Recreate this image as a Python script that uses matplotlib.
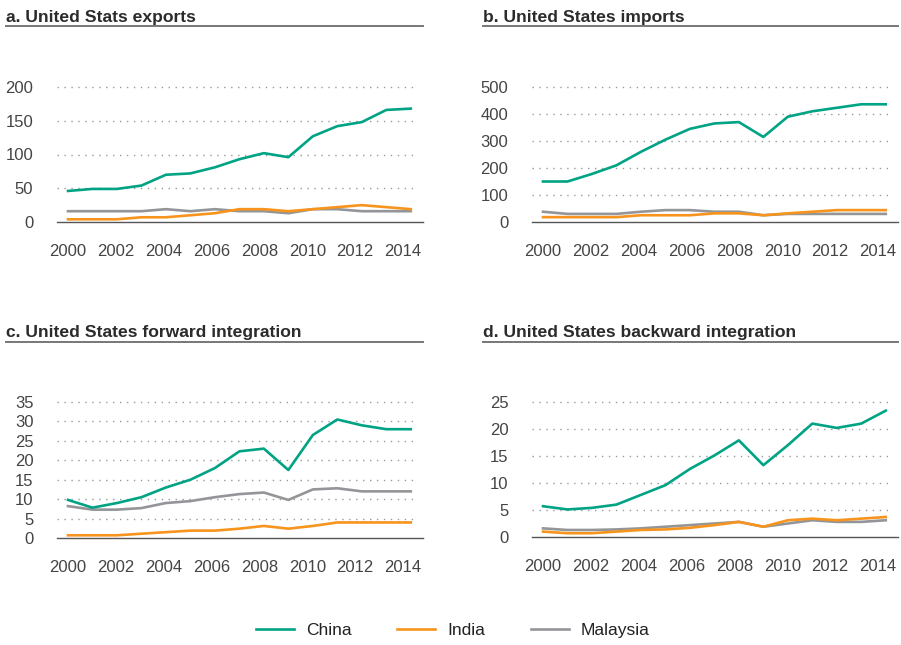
import matplotlib.pyplot as plt
import matplotlib.transforms as mtransforms

plt.rcParams['font.family'] = ['Liberation Sans Narrow', 'Liberation Sans', 'DejaVu Sans']

years = list(range(2000, 2015))

exports_china = [46, 49, 49, 54, 70, 72, 81, 93, 102, 96, 127, 142, 148, 166, 168]
exports_india = [4, 4, 4, 7, 7, 10, 13, 19, 19, 16, 19, 22, 25, 22, 19]
exports_malaysia = [16, 16, 16, 16, 19, 16, 19, 16, 16, 13, 19, 19, 16, 16, 16]

imports_china = [150, 150, 178, 210, 260, 305, 345, 365, 370, 315, 390, 410, 423, 436, 436]
imports_india = [18, 18, 18, 18, 25, 25, 25, 32, 32, 25, 32, 38, 44, 44, 44]
imports_malaysia = [38, 30, 30, 30, 38, 44, 44, 38, 38, 25, 30, 30, 30, 30, 30]

forward_china = [9.8, 7.8, 9, 10.5, 13, 15, 18, 22.3, 23, 17.5, 26.5, 30.5, 29, 28, 28]
forward_india = [0.7, 0.7, 0.7, 1.1, 1.5, 1.9, 1.9, 2.4, 3.1, 2.4, 3.1, 4, 4, 4, 4]
forward_malaysia = [8.2, 7.3, 7.3, 7.7, 9, 9.5, 10.5, 11.3, 11.7, 9.8, 12.5, 12.8, 12, 12, 12]

backward_china = [5.7, 5.1, 5.4, 6, 7.8, 9.6, 12.6, 15.1, 17.9, 13.3, 17, 21, 20.2, 21, 23.4]
backward_india = [1, 0.7, 0.7, 1.0, 1.3, 1.4, 1.7, 2.2, 2.8, 1.9, 3.1, 3.4, 3.1, 3.4, 3.7]
backward_malaysia = [1.6, 1.3, 1.3, 1.4, 1.6, 1.9, 2.2, 2.5, 2.8, 1.9, 2.5, 3.1, 2.8, 2.8, 3.1]

panels = [
    ('a. United Stats exports', exports_china, exports_india, exports_malaysia, [0, 50, 100, 150, 200]),
    ('b. United States imports', imports_china, imports_india, imports_malaysia, [0, 100, 200, 300, 400, 500]),
    ('c. United States forward integration', forward_china, forward_india, forward_malaysia, [0, 5, 10, 15, 20, 25, 30, 35]),
    ('d. United States backward integration', backward_china, backward_india, backward_malaysia, [0, 5, 10, 15, 20, 25]),
]

GREEN = '#00a383'
ORANGE = '#f7941d'
GREY = '#939598'
W, H = 901, 645

fig = plt.figure(figsize=(W / 100, H / 100), dpi=100)

# pixel boxes: (left, right, top, bottom, title_left, title_base, rule_y)
boxes = [
    (57, 423, 87, 222, 6, 22, 26),
    (532, 898, 87, 222, 483, 22, 26),
    (57, 423, 402, 538, 6, 337, 342),
    (532, 898, 402, 537, 483, 337, 342),
]

handles = None
for (title, ch, ind, mal, ticks), (l, r, t, b, tl, tb, ry) in zip(panels, boxes):
    ax = fig.add_axes([l / W, 1 - b / H, (r - l) / W, (b - t) / H])
    hc, = ax.plot(years, ch, color=GREEN, lw=1.9, label='China', zorder=3)
    hm, = ax.plot(years, mal, color=GREY, lw=1.9, label='Malaysia', zorder=2)
    hi, = ax.plot(years, ind, color=ORANGE, lw=1.9, label='India', zorder=2)
    handles = [hc, hi, hm]
    ax.set_xlim(1999.55, 2014.5)
    ax.set_ylim(0, ticks[-1])
    ax.hlines(ticks[1:], 1999.55, 2014.25, colors='#999999', linestyles=(0, (1, 4)), lw=1, clip_on=False)
    ax.set_yticks(ticks)
    ax.set_xticks(range(2000, 2015, 2))
    for s in ['top', 'right', 'left']:
        ax.spines[s].set_visible(False)
    ax.spines['bottom'].set_color('#555555')
    ax.spines['bottom'].set_linewidth(1)
    ax.tick_params(length=0, labelsize=12, colors='#444444')
    ax.tick_params(axis='y', pad=17)
    ax.tick_params(axis='x', pad=16)
    ax.patch.set_alpha(0)
    # labels sit slightly tighter than the data points in the original
    xlabels = ax.get_xticklabels()
    for k, lab in enumerate(xlabels):
        shift = -k * 1.1
        lab.set_transform(lab.get_transform() + mtransforms.ScaledTranslation(shift / 100, 0, fig.dpi_scale_trans))
    fig.text(tl / W, 1 - tb / H, title, fontsize=12.6, fontweight='bold', color='#2b2b2b',
             ha='left', va='baseline')
    fig.add_artist(plt.Line2D([tl / W, r / W], [1 - ry / H, 1 - ry / H], color='#777777', lw=1.4))

fig.legend(handles, ['China', 'India', 'Malaysia'], loc='center', bbox_to_anchor=(453 / W, 1 - 630 / H),
           ncol=3, frameon=False, fontsize=12.5, handlelength=2.2, handletextpad=0.7, columnspacing=2.6,
           labelcolor='#222222')

fig.savefig('out.png', dpi=100)
